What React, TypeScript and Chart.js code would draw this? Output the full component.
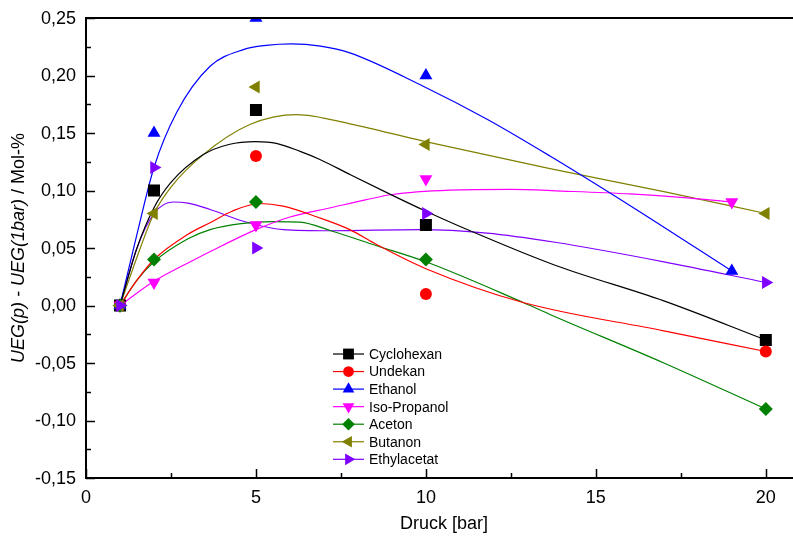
import React, { useEffect, useRef } from 'react';
import { Chart, registerables } from 'chart.js';

Chart.register(...registerables);

const FONT = '"Liberation Sans", Arial, sans-serif';

// ---- series meta ----
const seriesNames = ['Cyclohexan', 'Undekan', 'Ethanol', 'Iso-Propanol', 'Aceton', 'Butanon', 'Ethylacetat'];
const seriesColors = ['#000000', '#FF0000', '#0000FF', '#FF00FF', '#008000', '#808000', '#8000FF'];
const markerStyles = ['rect', 'circle', 'triangle', 'triangle', 'rectRot', 'triangle', 'triangle'];
const markerRotations = [0, 0, 0, 180, 0, -90, 90];
const markerRadii = [8.5, 6, 7.5, 7.5, 7, 7.5, 7.5];

// ---- measured points ----
const cyclohexanX = [1, 2, 5, 10, 20];
const cyclohexanY = [0, 0.10, 0.17, 0.07, -0.03];
const undekanX = [1, 5, 10, 20];
const undekanY = [0, 0.13, 0.01, -0.04];
const ethanolX = [1, 2, 5, 10, 19];
const ethanolY = [0, 0.15, 0.25, 0.20, 0.03];
const isoPropanolX = [1, 2, 5, 10, 19];
const isoPropanolY = [0, 0.02, 0.07, 0.11, 0.09];
const acetonX = [1, 2, 5, 10, 20];
const acetonY = [0, 0.04, 0.09, 0.04, -0.09];
const butanonX = [1, 2, 5, 10, 20];
const butanonY = [0, 0.08, 0.19, 0.14, 0.08];
const ethylacetatX = [1, 2, 5, 10, 20];
const ethylacetatY = [0, 0.12, 0.05, 0.08, 0.02];

// ---- smoothed curves ----
const cyclohexanCurveX = [1, 1.5, 2, 2.5, 3.44, 4.2, 5, 5.6, 6.3, 6.88, 7.76, 9, 10, 11.3, 13.8, 17, 20];
const cyclohexanCurveY = [0, 0.05, 0.085, 0.107, 0.131, 0.14, 0.1425, 0.141, 0.134, 0.127, 0.114, 0.096, 0.082, 0.065, 0.035, 0.004, -0.03];
const undekanCurveX = [1, 1.5, 2, 3, 3.65, 4.3, 5.1, 5.8, 6.8, 7.76, 8.55, 10, 12.86, 17, 20];
const undekanCurveY = [0, 0.022, 0.04, 0.062, 0.072, 0.082, 0.0887, 0.0864, 0.077, 0.066, 0.053, 0.032, 0.0026, -0.022, -0.04];
const ethanolCurveX = [1, 1.5, 2, 2.67, 3.65, 4.63, 5.3, 6.05, 6.9, 7.76, 9.92, 11.8, 13.65, 16, 19];
const ethanolCurveY = [0, 0.062, 0.12, 0.168, 0.208, 0.2225, 0.2262, 0.2275, 0.2255, 0.2197, 0.1907, 0.162, 0.13, 0.087, 0.03];
const isoPropanolCurveX = [1, 2, 3, 4, 5, 6, 7.2, 8.25, 9, 10.7, 12.5, 14, 16, 17.5, 19];
const isoPropanolCurveY = [0, 0.021, 0.037, 0.052, 0.066, 0.077, 0.085, 0.092, 0.0965, 0.1003, 0.101, 0.0995, 0.097, 0.094, 0.09];
const acetonCurveX = [1, 1.5, 2, 3, 3.65, 4.5, 5.5, 6.3, 7.2, 8.55, 10, 12.86, 13.65, 17, 20];
const acetonCurveY = [0, 0.022, 0.038, 0.058, 0.066, 0.071, 0.073, 0.0725, 0.065, 0.052, 0.038, 0.0026, -0.0078, -0.05, -0.09];
const butanonCurveX = [1, 1.5, 2, 2.5, 3.44, 4.82, 6.2, 7.76, 9.92, 13.65, 17, 20];
const butanonCurveY = [0, 0.042, 0.08, 0.103, 0.131, 0.1574, 0.166, 0.158, 0.143, 0.119, 0.099, 0.08];
const ethylacetatCurveX = [1, 1.5, 2, 2.56, 3, 3.65, 4.63, 5.8, 7.2, 9.8, 11.8, 13.8, 17, 20];
const ethylacetatCurveY = [0, 0.05, 0.08, 0.09, 0.089, 0.0835, 0.0733, 0.066, 0.065, 0.066, 0.063, 0.055, 0.038, 0.02];

const pointXs = [cyclohexanX, undekanX, ethanolX, isoPropanolX, acetonX, butanonX, ethylacetatX];
const pointYs = [cyclohexanY, undekanY, ethanolY, isoPropanolY, acetonY, butanonY, ethylacetatY];
const curveXs = [cyclohexanCurveX, undekanCurveX, ethanolCurveX, isoPropanolCurveX, acetonCurveX, butanonCurveX, ethylacetatCurveX];
const curveYs = [cyclohexanCurveY, undekanCurveY, ethanolCurveY, isoPropanolCurveY, acetonCurveY, butanonCurveY, ethylacetatCurveY];

// ---- axes ----
const xMin = 0;
const xMax = 20.8;
const yMin = -0.15;
const yMax = 0.25;
const xTickValues = [0, 5, 10, 15, 20];
const xTickLabels = ['0', '5', '10', '15', '20'];
const xMinorTicks = [2.5, 7.5, 12.5, 17.5];
const yTickValues = [-0.15, -0.10, -0.05, 0, 0.05, 0.10, 0.15, 0.20, 0.25];
const yTickLabels = ['-0,15', '-0,10', '-0,05', '0,00', '0,05', '0,10', '0,15', '0,20', '0,25'];
const yMinorTicks = [-0.125, -0.075, -0.025, 0.025, 0.075, 0.125, 0.175, 0.225];
const xTitle = 'Druck [bar]';
const yTitleItalic = 'UEG(p) - UEG(1bar)';
const yTitleNormal = ' / Mol-%';

function zip(xs: number[], ys: number[]) {
  return xs.map((x, i) => ({ x, y: ys[i] }));
}

function drawMarker(ctx: CanvasRenderingContext2D, style: string, rot: number, x: number, y: number, r: number, color: string) {
  ctx.save();
  ctx.fillStyle = color;
  ctx.beginPath();
  if (style === 'rect') {
    const s = r * Math.SQRT1_2;
    ctx.rect(x - s, y - s, 2 * s, 2 * s);
  } else if (style === 'circle') {
    ctx.arc(x, y, r, 0, Math.PI * 2);
  } else if (style === 'rectRot') {
    ctx.moveTo(x, y - r);
    ctx.lineTo(x + r, y);
    ctx.lineTo(x, y + r);
    ctx.lineTo(x - r, y);
  } else {
    const rad = (rot * Math.PI) / 180;
    for (let k = 0; k < 3; k++) {
      const a = rad + (k * 2 * Math.PI) / 3;
      const px = x + Math.sin(a) * r;
      const py = y - Math.cos(a) * r;
      if (k === 0) ctx.moveTo(px, py);
      else ctx.lineTo(px, py);
    }
  }
  ctx.closePath();
  ctx.fill();
  ctx.restore();
}

const framePlugin = {
  id: 'originFrame',
  afterDraw(chart: any) {
    const ctx: CanvasRenderingContext2D = chart.ctx;
    const area = chart.chartArea;
    const xs = chart.scales.x;
    const ys = chart.scales.y;
    ctx.save();
    ctx.strokeStyle = '#000';
    ctx.lineWidth = 2;
    ctx.lineCap = 'butt';
    // axes lines
    ctx.beginPath();
    ctx.moveTo(area.left, area.top);
    ctx.lineTo(area.left, area.bottom);
    ctx.moveTo(area.left - 1, area.bottom);
    ctx.lineTo(area.right, area.bottom);
    ctx.moveTo(area.left - 1, area.top);
    ctx.lineTo(area.right, area.top);
    ctx.stroke();
    // ticks (inward)
    ctx.lineWidth = 1.5;
    ctx.beginPath();
    yTickValues.forEach((v) => {
      const py = Math.round(ys.getPixelForValue(v)) + 0.5;
      ctx.moveTo(area.left, py);
      ctx.lineTo(area.left + 9, py);
    });
    yMinorTicks.forEach((v) => {
      const py = Math.round(ys.getPixelForValue(v)) + 0.5;
      ctx.moveTo(area.left, py);
      ctx.lineTo(area.left + 5, py);
    });
    xTickValues.forEach((v) => {
      const px = Math.round(xs.getPixelForValue(v)) + 0.5;
      ctx.moveTo(px, area.bottom);
      ctx.lineTo(px, area.bottom - 9);
    });
    xMinorTicks.forEach((v) => {
      const px = Math.round(xs.getPixelForValue(v)) + 0.5;
      ctx.moveTo(px, area.bottom);
      ctx.lineTo(px, area.bottom - 5);
    });
    ctx.stroke();

    // tick labels
    ctx.fillStyle = '#000';
    ctx.font = `18px ${FONT}`;
    ctx.textAlign = 'right';
    ctx.textBaseline = 'middle';
    yTickValues.forEach((v, i) => {
      ctx.fillText(yTickLabels[i], area.left - 10, ys.getPixelForValue(v) + 1);
    });
    ctx.textAlign = 'center';
    xTickValues.forEach((v, i) => {
      ctx.fillText(xTickLabels[i], xs.getPixelForValue(v), area.bottom + 20);
    });

    // axis titles
    ctx.font = `18px ${FONT}`;
    ctx.textAlign = 'center';
    ctx.fillText(xTitle, 444, 524);

    ctx.save();
    ctx.translate(19, 248);
    ctx.rotate(-Math.PI / 2);
    ctx.font = `italic 18px ${FONT}`;
    const w1 = ctx.measureText(yTitleItalic).width;
    ctx.font = `18px ${FONT}`;
    const w2 = ctx.measureText(yTitleNormal).width;
    const start = -(w1 + w2) / 2;
    ctx.textAlign = 'left';
    ctx.textBaseline = 'middle';
    ctx.font = `italic 18px ${FONT}`;
    ctx.fillText(yTitleItalic, start, 0);
    ctx.font = `18px ${FONT}`;
    ctx.fillText(yTitleNormal, start + w1, 0);
    ctx.restore();

    // legend
    const lx0 = 333;
    const lx1 = 364;
    const lmx = 348.5;
    const ltx = 369;
    const ly0 = 354;
    const lstep = 17.55;
    ctx.font = `14px ${FONT}`;
    ctx.textAlign = 'left';
    ctx.textBaseline = 'middle';
    seriesNames.forEach((name, i) => {
      const y = ly0 + i * lstep;
      ctx.strokeStyle = seriesColors[i];
      ctx.lineWidth = 1.2;
      ctx.beginPath();
      ctx.moveTo(lx0, y);
      ctx.lineTo(lx1, y);
      ctx.stroke();
      drawMarker(ctx, markerStyles[i], markerRotations[i], lmx, y, markerRadii[i] * 0.9, seriesColors[i]);
      ctx.fillStyle = '#000';
      ctx.fillText(name, ltx, y + 1);
    });
    ctx.restore();
  },
};

export default function App() {
  const canvasRef = useRef<HTMLCanvasElement | null>(null);

  useEffect(() => {
    const canvas = canvasRef.current;
    if (!canvas) return;
    const datasets: any[] = [];
    seriesNames.forEach((name, i) => {
      datasets.push({
        label: name + ' fit',
        data: zip(curveXs[i], curveYs[i]),
        showLine: true,
        borderColor: seriesColors[i],
        borderWidth: 1.2,
        pointRadius: 0,
        pointHoverRadius: 0,
        cubicInterpolationMode: 'monotone',
        fill: false,
        clip: 0,
        order: 20 + i,
      });
    });
    seriesNames.forEach((name, i) => {
      datasets.push({
        label: name,
        data: zip(pointXs[i], pointYs[i]),
        showLine: false,
        pointStyle: markerStyles[i],
        rotation: markerRotations[i],
        pointRadius: markerRadii[i],
        pointHoverRadius: markerRadii[i],
        backgroundColor: seriesColors[i],
        borderColor: seriesColors[i],
        pointBorderWidth: 0,
        clip: 0,
        order: 6 - i,
      });
    });

    const chart = new Chart(canvas, {
      type: 'scatter',
      data: { datasets },
      options: {
        animation: false,
        responsive: false,
        events: [],
        layout: { autoPadding: false, padding: { top: 18, right: 0, left: 0, bottom: 0 } },
        plugins: { legend: { display: false }, tooltip: { enabled: false } },
        scales: {
          x: {
            type: 'linear',
            min: xMin,
            max: xMax,
            grid: { display: false, drawTicks: false },
            border: { display: false },
            ticks: { display: false },
            afterFit: (s: any) => { s.height = 62; },
          },
          y: {
            type: 'linear',
            min: yMin,
            max: yMax,
            grid: { display: false, drawTicks: false },
            border: { display: false },
            ticks: { display: false },
            afterFit: (s: any) => { s.width = 86; },
          },
        },
      },
      plugins: [framePlugin],
    });
    return () => chart.destroy();
  }, []);

  return (
    <div style={{ position: 'fixed', left: 0, top: 0, width: 793, height: 540, background: '#fff' }}>
      <canvas ref={canvasRef} width={793} height={540} />
    </div>
  );
}
